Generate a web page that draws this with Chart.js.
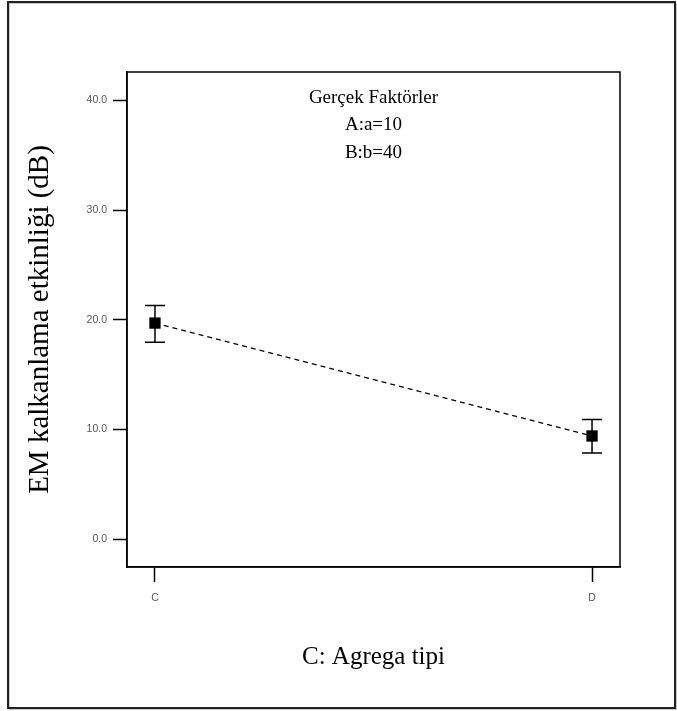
<!DOCTYPE html>
<html>
<head>
<meta charset="utf-8">
<script src="https://cdn.jsdelivr.net/npm/chart.js@4.4.0/dist/chart.umd.min.js"></script>
<style>
  html, body { margin: 0; padding: 0; background: #fff; overflow: hidden; }
  canvas { display: block; }
</style>
</head>
<body>
<canvas id="chart" width="677" height="711"></canvas>
<script>
// Categories on the x axis and the fitted means with their error limits
const categories = ['C', 'D'];
const means = [19.7, 9.4];
const lowerLimits = [17.95, 7.85];
const upperLimits = [21.3, 10.9];
const yTicks = [0, 10, 20, 30, 40];
const factorNotes = ['Gerçek Faktörler', 'A:a=10', 'B:b=40'];

const points = categories.map((c, i) => ({ x: i, y: means[i] }));

// outer picture border + frame around plot area
const framePlugin = {
    id: 'frame',
    beforeDraw(chart) {
        const ctx = chart.ctx;
        ctx.save();
        ctx.fillStyle = '#fff';
        ctx.fillRect(0, 0, chart.width, chart.height);
        ctx.strokeStyle = '#c8c8c8';
        ctx.lineWidth = 1;
        ctx.strokeRect(9.5, 3.5, 667, 706);
        ctx.strokeStyle = '#222';
        ctx.lineWidth = 2;
        ctx.strokeRect(8, 2, 667, 706);
        ctx.restore();
    },
    afterDraw(chart) {
        const a = chart.chartArea;
        const ctx = chart.ctx;
        ctx.save();
        ctx.strokeStyle = '#000';
        ctx.lineWidth = 1.5;
        ctx.strokeRect(a.left, a.top, a.right - a.left, a.bottom - a.top);
        ctx.restore();
    }
};

// error bars drawn from the scales
const errorBarPlugin = {
    id: 'errorBars',
    afterDatasetsDraw(chart) {
        const xs = chart.scales.x, ys = chart.scales.y;
        const ctx = chart.ctx;
        ctx.save();
        ctx.strokeStyle = '#000';
        ctx.lineWidth = 1.5;
        categories.forEach((c, i) => {
            const px = xs.getPixelForValue(i);
            const top = ys.getPixelForValue(upperLimits[i]);
            const bot = ys.getPixelForValue(lowerLimits[i]);
            ctx.beginPath();
            ctx.moveTo(px, top); ctx.lineTo(px, bot);
            ctx.moveTo(px - 10, top); ctx.lineTo(px + 10, top);
            ctx.moveTo(px - 10, bot); ctx.lineTo(px + 10, bot);
            ctx.stroke();
        });
        ctx.restore();
    }
};

// "Gerçek Faktörler" note in the top of the plot
const notesPlugin = {
    id: 'notes',
    afterDraw(chart) {
        const a = chart.chartArea;
        const ctx = chart.ctx;
        const cx = (a.left + a.right) / 2;
        ctx.save();
        ctx.fillStyle = '#000';
        ctx.font = '19px "Liberation Serif", "Times New Roman", serif';
        ctx.textAlign = 'center';
        ctx.textBaseline = 'middle';
        factorNotes.forEach((t, i) => {
            ctx.fillText(t, cx, a.top + 26 + i * 27.5);
        });
        ctx.restore();
    }
};

new Chart(document.getElementById('chart'), {
    type: 'line',
    data: {
        datasets: [{
            data: points,
            borderColor: '#000',
            borderWidth: 1.2,
            borderDash: [5, 4],
            pointStyle: 'rect',
            pointRadius: 8,
            pointBackgroundColor: '#000',
            pointBorderColor: '#000',
            pointBorderWidth: 0,
            fill: false,
            tension: 0
        }]
    },
    options: {
        responsive: false,
        animation: false,
        layout: { padding: { left: 0, top: 72, right: 57, bottom: 0 } },
        plugins: {
            legend: { display: false },
            tooltip: { enabled: false }
        },
        scales: {
            x: {
                type: 'linear',
                min: -0.064,
                max: 1.064,
                afterBuildTicks(scale) {
                    scale.ticks = categories.map((c, i) => ({ value: i }));
                },
                afterFit(scale) { scale.height = 144; },
                ticks: {
                    callback: (v) => categories[v],
                    color: '#555',
                    font: { family: '"Liberation Sans", Arial, sans-serif', size: 10.5 },
                    padding: 10,
                    maxRotation: 0
                },
                grid: { drawOnChartArea: false, drawTicks: true, tickLength: 15, tickColor: '#000', tickWidth: 1.5 },
                border: { display: true, color: '#000', width: 1.5 },
                title: {
                    display: true,
                    text: 'C: Agrega tipi',
                    color: '#000',
                    font: { family: '"Liberation Serif", "Times New Roman", serif', size: 25 },
                    padding: { top: 0, bottom: 39 }
                }
            },
            y: {
                min: -2.55,
                max: 42.6,
                afterBuildTicks(scale) {
                    scale.ticks = yTicks.map(v => ({ value: v }));
                },
                afterFit(scale) { scale.width = 127; },
                ticks: {
                    callback: (v) => v.toFixed(1),
                    color: '#555',
                    font: { family: '"Liberation Sans", Arial, sans-serif', size: 10.5 },
                    padding: 6
                },
                grid: { drawOnChartArea: false, drawTicks: true, tickLength: 14, tickColor: '#000', tickWidth: 1.5 },
                border: { display: true, color: '#000', width: 1.5 },
                title: {
                    display: true,
                    text: 'EM kalkanlama etkinliği (dB)',
                    color: '#000',
                    font: { family: '"Liberation Serif", "Times New Roman", serif', size: 29 },
                    padding: { top: 23, bottom: 0 }
                }
            }
        }
    },
    plugins: [framePlugin, errorBarPlugin, notesPlugin]
});
</script>
</body>
</html>
